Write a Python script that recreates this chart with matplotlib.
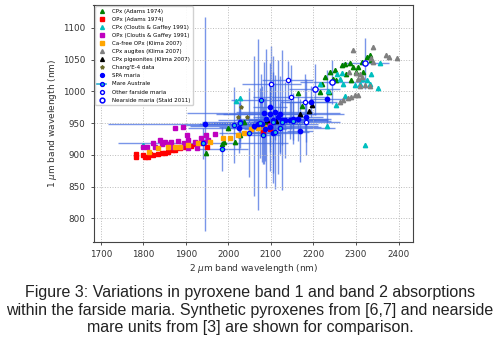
import matplotlib
matplotlib.use("Agg")
from matplotlib import pyplot as plt
from matplotlib.lines import Line2D

# --- laboratory pyroxenes ---
cpx_adams_x = [1947, 1986, 1989, 1999, 2015, 2027, 2036, 2090, 2164, 2172, 2215, 2219, 2226, 2237,
               2238, 2246, 2250, 2254, 2266, 2273, 2277, 2285, 2289, 2293, 2301, 2305, 2313, 2316,
               2326, 2332, 2336]
cpx_adams_y = [903, 917, 921, 943, 921, 931, 951, 951, 997, 977, 999, 1012, 1023, 999,
               1031, 1020, 1033, 1018, 1041, 1043, 1028, 1044, 1018, 1039, 1031, 1039, 1047, 1031,
               1054, 1057, 1050]

opx_adams_x = [1782, 1784, 1800, 1804, 1812, 1816, 1823, 1835, 1843, 1851, 1859, 1867, 1874, 1886,
               1898, 1913, 1925, 1933, 1949, 2082, 2099]
opx_adams_y = [901, 897, 899, 896, 897, 901, 900, 902, 903, 903, 905, 908, 908, 910,
               913, 914, 917, 918, 912, 936, 940]

cpx_cg_x = [1800, 2019, 2027, 2216, 2234, 2255, 2262, 2266, 2269, 2273, 2297, 2309, 2315, 2326,
            2334, 2336, 2352, 2356, 2254, 2232, 2320]
cpx_cg_y = [915, 985, 989, 1011, 1001, 1028, 1020, 1029, 1011, 992, 1010, 1012, 1019, 1018,
            1011, 1028, 1005, 1044, 979, 945, 915]

opx_cg_x = [1800, 1808, 1823, 1827, 1839, 1843, 1851, 1859, 1864, 1869, 1874, 1882, 1888, 1894,
            1895, 1903, 1906, 1906, 1921, 1927, 1935, 1942, 1947, 1953, 1968, 2099]
opx_cg_y = [913, 913, 918, 913, 923, 917, 921, 917, 921, 913, 942, 922, 913, 944,
            918, 931, 924, 910, 921, 910, 926, 921, 931, 923, 933, 947]

cafree_x = [1814, 1835, 1859, 1874, 1886, 1906, 1929, 1956, 1988, 2005, 2023, 2036, 2053, 2070, 2083]
cafree_y = [905, 910, 913, 913, 913, 915, 918, 921, 927, 926, 931, 935, 940, 942, 944]

augite_x = [2293, 2340, 2371, 2377, 2397, 2336, 2340, 2283, 2299, 2310, 2315, 2305, 2320, 2310,
            2332, 2297, 2305, 2289, 2281, 2269, 2262]
augite_y = [1065, 1070, 1057, 1054, 1053, 1052, 1046, 1031, 1029, 1028, 1023, 1020, 1010, 1008,
            1008, 995, 994, 991, 989, 986, 984]

pigeonite_x = [2091, 2113, 2168, 2189, 2197]
pigeonite_y = [955, 953, 964, 969, 978]

ce4_x = [2029, 2023, 2043]
ce4_y = [975, 960, 960]

# --- remote sensing ---
spa_x = [1945, 2025, 2027, 2060, 2070, 2080, 2083, 2088, 2097, 2099, 2105, 2109, 2117,
         2121, 2125, 2086, 2097, 2104, 2133, 2144, 2152, 2164, 2183, 2195, 2168, 2233]
spa_y = [949, 943, 952, 945, 948, 949, 966, 957, 965, 975, 955, 968, 960,
         965, 955, 940, 944, 934, 955, 955, 957, 957, 960, 984, 938, 988]
spa_xerr = [227, 120, 90, 150, 140, 100, 180, 70, 110, 40, 130, 90, 60,
            150, 80, 50, 120, 70, 100, 60, 90, 70, 40, 60, 30, 40]
spa_yerr = [169, 40, 30, 110, 135, 60, 80, 110, 50, 70, 100, 45, 90,
            60, 110, 50, 70, 40, 60, 30, 40, 35, 60, 25, 50, 45]

australe_x = [1941, 1986, 2014, 2027, 2048, 2074, 2082, 2109, 2121, 2104, 2127, 2151, 2076]
australe_y = [918, 909, 947, 950, 935, 950, 931, 936, 942, 951, 951, 954, 987]
australe_xerr = [200, 60, 120, 90, 70, 110, 40, 80, 130, 50, 60, 90, 70]
australe_yerr = [25, 35, 60, 40, 70, 55, 45, 90, 40, 80, 35, 30, 40]

farside_x = [2101, 2140, 2147, 2181, 2183]
farside_y = [1012, 1018, 991, 983, 951]
farside_xerr = [70, 60, 90, 60, 80]
farside_yerr = [60, 30, 50, 45, 30]

nearside_x = [2203, 2244, 2322]
nearside_y = [1003, 1015, 1044]
nearside_xerr = [60, 75, 55]
nearside_yerr = [40, 35, 40]

ebar = "#4169e1"

fig = plt.figure(figsize=(5, 3.4), dpi=100)
ax = fig.add_axes([0.187, 0.289, 0.639, 0.696])

for xs, ys, xe, ye in [(spa_x, spa_y, spa_xerr, spa_yerr),
                       (australe_x, australe_y, australe_xerr, australe_yerr),
                       (farside_x, farside_y, farside_xerr, farside_yerr),
                       (nearside_x, nearside_y, nearside_xerr, nearside_yerr)]:
    ax.errorbar(xs, ys, xerr=xe, yerr=ye, fmt="none", ecolor=ebar, elinewidth=1.0, alpha=0.7, zorder=1)

ms = 3.1
ax.plot(cpx_adams_x, cpx_adams_y, "^", color="green", ms=ms, zorder=3)
ax.plot(opx_adams_x, opx_adams_y, "s", color="red", ms=ms, zorder=3)
ax.plot(cpx_cg_x, cpx_cg_y, "^", color="c", ms=ms, zorder=3)
ax.plot(opx_cg_x, opx_cg_y, "s", color="m", ms=ms, zorder=3)
ax.plot(cafree_x, cafree_y, "s", color="orange", ms=ms, zorder=3)
ax.plot(augite_x, augite_y, "^", color="gray", ms=ms, zorder=3)
ax.plot(pigeonite_x, pigeonite_y, "^", color="black", ms=ms, zorder=3)
ax.plot(ce4_x, ce4_y, "*", color="#6b6b2a", ms=2.8, zorder=3)
ax.plot(spa_x, spa_y, "o", color="blue", ms=ms, zorder=4)
ax.plot(australe_x, australe_y, "o", mfc="#20c0d0", mec="blue", mew=0.9, ms=ms, zorder=4)
ax.plot(farside_x, farside_y, "o", mfc="white", mec="blue", mew=0.9, ms=ms, zorder=4)
ax.plot(nearside_x, nearside_y, "o", mfc="white", mec="blue", mew=1.0, ms=3.8, zorder=4)

hm = 2.8
handles = [
    Line2D([], [], ls="none", marker="^", color="green", ms=hm),
    Line2D([], [], ls="none", marker="s", color="red", ms=hm),
    Line2D([], [], ls="none", marker="^", color="c", ms=hm),
    Line2D([], [], ls="none", marker="s", color="m", ms=hm),
    Line2D([], [], ls="none", marker="s", color="orange", ms=hm),
    Line2D([], [], ls="none", marker="^", color="gray", ms=hm),
    Line2D([], [], ls="none", marker="^", color="black", ms=hm),
    Line2D([], [], ls="none", marker="*", color="#6b6b2a", ms=hm),
    Line2D([], [], ls="none", marker="o", color="blue", ms=hm),
    Line2D([], [], ls="-", color="#30b0d0", lw=1.2, marker="o", mfc="#20c0d0", mec="blue", ms=hm),
    Line2D([], [], ls="none", marker="o", mfc="white", mec="blue", ms=hm),
    Line2D([], [], ls="none", marker="o", mfc="white", mec="blue", ms=3.4, mew=1.1),
]
labels = ["CPx (Adams 1974)", "OPx (Adams 1974)", "CPx (Cloutis & Gaffey 1991)",
          "OPx (Cloutis & Gaffey 1991)", "Ca-free OPx (Klima 2007)", "CPx augites (Klima 2007)",
          "CPx pigeonites (Klima 2007)", "Chang'E-4 data", "SPA maria", "Mare Australe",
          "Other farside maria", "Nearside maria (Staid 2011)"]
ax.legend(handles, labels, loc="upper left", fontsize=4.0, labelspacing=0.55,
          handlelength=1.6, handletextpad=1.0, borderpad=0.45, borderaxespad=0.25,
          framealpha=0.9)

ax.set_xlim(1683, 2434)
ax.set_ylim(763, 1136)
ax.set_xticks([1700, 1800, 1900, 2000, 2100, 2200, 2300, 2400])
ax.set_yticks([800, 850, 900, 950, 1000, 1050, 1100])
ax.grid(True, ls=":", color="#bbbbbb", lw=0.7)
ax.tick_params(labelsize=6.3, length=2.5, width=0.6, colors="#333333")
for s in ax.spines.values():
    s.set_color("#444444")
    s.set_linewidth(0.8)
ax.set_xlabel(r"2 $\mu$m band wavelength (nm)", fontsize=6.5, color="#333333", labelpad=2)
ax.set_ylabel(r"1 $\mu$m band wavelength (nm)", fontsize=6.5, color="#333333", labelpad=3)

caption = ("Figure 3: Variations in pyroxene band 1 and band 2 absorptions\n"
           "within the farside maria. Synthetic pyroxenes from [6,7] and nearside\n"
           "mare units from [3] are shown for comparison.")
fig.text(0.5, 0.088, caption, ha="center", va="center", fontsize=11.5,
         family="Liberation Sans", color="#222222", linespacing=1.2)

fig.savefig("out.png", dpi=100)
